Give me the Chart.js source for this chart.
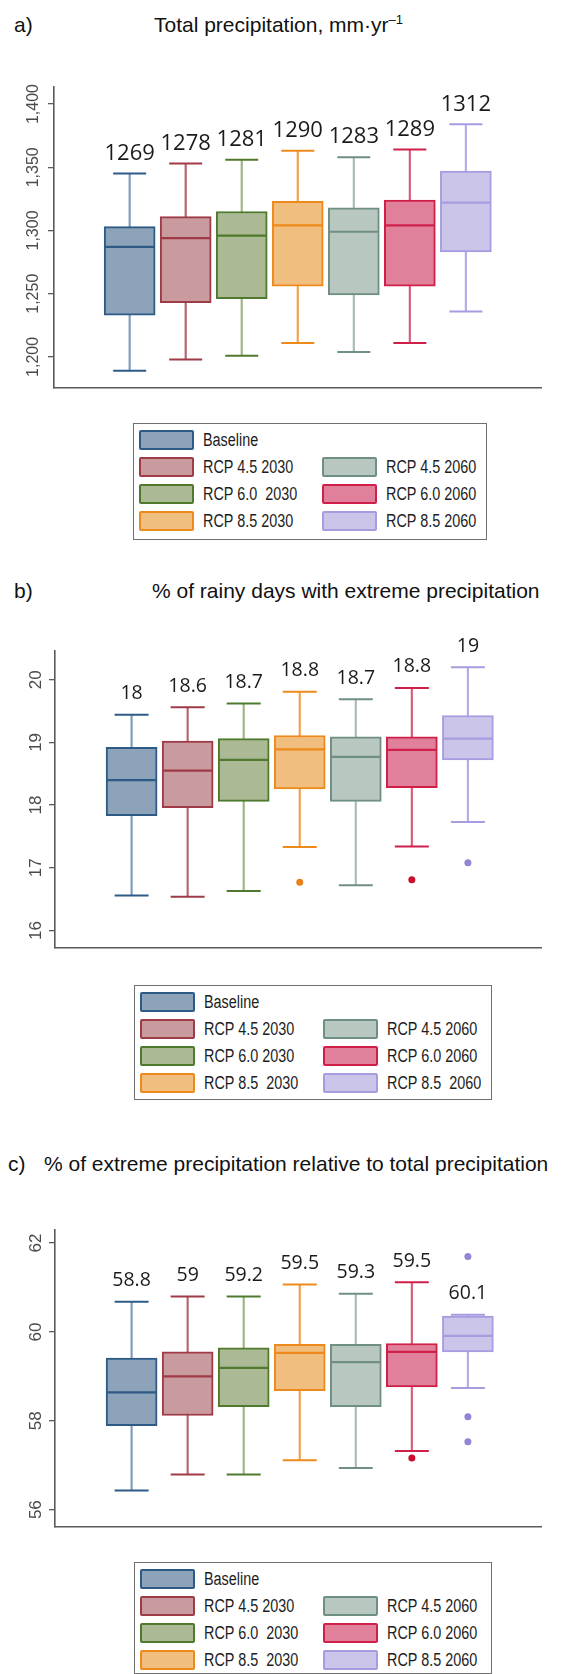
<!DOCTYPE html>
<html>
<head>
<meta charset="utf-8">
<script src="https://cdn.jsdelivr.net/npm/chart.js@4.4.1/dist/chart.umd.min.js"></script>
<style>
  body { margin: 0; width: 568px; height: 1674px; background: #fff; position: relative; overflow: hidden;
         font-family: "Liberation Sans", Arial, sans-serif; color: #111; }
  .tag, .title { position: absolute; font-size: 21px; line-height: 21px; white-space: pre; }
  .title sup { font-size: 13px; line-height: 0; vertical-align: 8px; }
  canvas { position: absolute; left: 0; }
  .legend { position: absolute; border: 1.5px solid #707070; box-sizing: border-box; }
  .legend .item { position: absolute; display: flex; align-items: center; height: 20px; }
  .legend .swatch { width: 55px; height: 20px; box-sizing: border-box; border: 2px solid; border-radius: 2px; flex: none; }
  .legend .lbl { font-size: 18px; line-height: 18px; margin-left: 9px; white-space: pre; color: #1d1d1d;
                 transform: scaleX(0.8); transform-origin: left center; }
</style>
</head>
<body>

<div class="tag" style="left:14px; top:14px">a)</div>
<div class="title" style="left:154px; top:14px">Total precipitation, mm·yr<sup>–1</sup></div>
<canvas id="chartA" width="568" height="354" style="top:60px"></canvas>
<div class="legend" id="legendA" style="left:133px; top:423px; width:354px; height:117px"></div>

<div class="tag" style="left:14px; top:580px">b)</div>
<div class="title" style="left:152px; top:580px">% of rainy days with extreme precipitation</div>
<canvas id="chartB" width="568" height="350" style="top:624px"></canvas>
<div class="legend" id="legendB" style="left:134px; top:985px; width:358px; height:115px"></div>

<div class="tag" style="left:8px; top:1153px">c)</div>
<div class="title" style="left:44px; top:1153px">% of extreme precipitation relative to total precipitation</div>
<canvas id="chartC" width="568" height="350" style="top:1203px"></canvas>
<div class="legend" id="legendC" style="left:134px; top:1562px; width:358px; height:112px"></div>

<script>
// ---------- data ----------
const seriesNames = ['Baseline', 'RCP 4.5 2030', 'RCP 6.0 2030', 'RCP 8.5 2030',
                     'RCP 4.5 2060', 'RCP 6.0 2060', 'RCP 8.5 2060'];

// a) total precipitation, mm/yr
const tickValuesA = [1200, 1250, 1300, 1350, 1400];
const tickLabelsA = ['1,200', '1,250', '1,300', '1,350', '1,400'];
const lowA    = [1189, 1198, 1201, 1211, 1204, 1211, 1236];
const q1A     = [1233, 1243, 1246, 1256, 1249, 1256, 1283];
const medianA = [1287, 1294, 1296, 1304, 1299, 1304, 1322];
const q3A     = [1303, 1311, 1315, 1323, 1318, 1324, 1347];
const highA   = [1345, 1353, 1356, 1363, 1358, 1364, 1384];
const meanA   = [1269, 1278, 1281, 1290, 1283, 1289, 1312];
const outlierSeriesA = [];
const outlierValuesA = [];
const legendLabelsA = ['Baseline', 'RCP 4.5 2030', 'RCP 6.0  2030', 'RCP 8.5 2030',
                       'RCP 4.5 2060', 'RCP 6.0 2060', 'RCP 8.5 2060'];

// b) % of rainy days with extreme precipitation
const tickValuesB = [16, 17, 18, 19, 20];
const tickLabelsB = ['16', '17', '18', '19', '20'];
const lowB    = [16.56, 16.54, 16.63, 17.33, 16.72, 17.34, 17.73];
const q1B     = [17.83, 17.96, 18.06, 18.26, 18.06, 18.28, 18.72];
const medianB = [18.40, 18.55, 18.72, 18.89, 18.77, 18.88, 19.06];
const q3B     = [18.92, 19.02, 19.06, 19.11, 19.09, 19.09, 19.43];
const highB   = [19.44, 19.56, 19.62, 19.81, 19.69, 19.87, 20.20];
const meanB   = [18, 18.6, 18.7, 18.8, 18.7, 18.8, 19];
const outlierSeriesB = [3, 5, 6];
const outlierValuesB = [16.77, 16.81, 17.08];
const legendLabelsB = ['Baseline', 'RCP 4.5 2030', 'RCP 6.0 2030', 'RCP 8.5  2030',
                       'RCP 4.5 2060', 'RCP 6.0 2060', 'RCP 8.5  2060'];

// c) % of extreme precipitation relative to total precipitation
const tickValuesC = [56, 58, 60, 62];
const tickLabelsC = ['56', '58', '60', '62'];
const lowC    = [56.43, 56.79, 56.79, 57.11, 56.94, 57.32, 58.74];
const q1C     = [57.89, 58.12, 58.32, 58.68, 58.32, 58.76, 59.55];
const medianC = [58.64, 59.00, 59.19, 59.53, 59.32, 59.55, 59.91];
const q3C     = [59.41, 59.55, 59.64, 59.72, 59.72, 59.74, 60.36];
const highC   = [60.68, 60.80, 60.80, 61.07, 60.86, 61.12, 60.39];
const meanC   = [58.8, 59, 59.2, 59.5, 59.3, 59.5, 60.1];
const outlierSeriesC = [5, 6, 6, 6];
const outlierValuesC = [57.16, 61.70, 58.09, 57.53];
const legendLabelsC = ['Baseline', 'RCP 4.5 2030', 'RCP 6.0  2030', 'RCP 8.5  2030',
                       'RCP 4.5 2060', 'RCP 6.0 2060', 'RCP 8.5 2060'];

// ---------- styles ----------
const fillColors    = ['#8ca3b9', '#c99a9e', '#abba94', '#f0bf80', '#b8c8c1', '#e0809a', '#cbc6e9'];
const strokeColors  = ['#2d5b86', '#9e3b47', '#4f7a2e', '#ee8a1c', '#6f8f83', '#d0204a', '#a99be0'];
const whiskerColors = ['#7f9cb8', '#b3646c', '#9fb385', '#f0a04a', '#a7bdb4', '#d95c7a', '#b5ace6'];
const outlierColors = ['#2d5b86', '#9e3b47', '#4f7a2e', '#e8801c', '#6f8f83', '#c8102e', '#8f86d8'];
const axisColor = '#5a5a5a';

Chart.defaults.animation = false;

/**
 * Build one box-plot panel from the arrays above
 */
function drawPanel(canvasId, p) {
    const idx = p.low.map((_, i) => i);
    const whiskers = idx.map(i => ({ x: i, y: [p.low[i], p.high[i]] }));
    const boxes = idx.map(i => ({ x: i, y: [p.q1[i], p.q3[i]] }));
    const medians = idx.map(i => ({ x: i, y: p.median[i] }));
    const caps = idx.flatMap(i => [{ x: i, y: p.low[i] }, { x: i, y: p.high[i] }]);
    const capColors = idx.flatMap(i => [strokeColors[i], strokeColors[i]]);
    const outliers = p.outlierSeries.map((s, k) => ({ x: s, y: p.outlierValues[k] }));

    // mean values written above the upper whisker
    const meanLabels = {
        id: 'meanLabels',
        afterDatasetsDraw(chart) {
            const { ctx, scales: { x, y } } = chart;
            ctx.save();
            ctx.font = p.meanFont;
            ctx.fillStyle = '#1b1b1b';
            ctx.textAlign = 'center';
            ctx.textBaseline = 'middle';
            p.mean.forEach((v, i) => {
                ctx.fillText(String(v), x.getPixelForValue(i), y.getPixelForValue(p.high[i]) - p.meanGap);
            });
            ctx.restore();
        }
    };

    // rotated y tick labels
    const rotatedTicks = {
        id: 'rotatedTicks',
        afterDraw(chart) {
            const { ctx, scales: { y } } = chart;
            ctx.save();
            ctx.font = p.tickFont;
            ctx.fillStyle = '#4a4a4a';
            ctx.textAlign = 'center';
            ctx.textBaseline = 'alphabetic';
            p.tickValues.forEach((v, k) => {
                ctx.save();
                ctx.translate(p.tickLabelX, y.getPixelForValue(v));
                ctx.rotate(-Math.PI / 2);
                ctx.fillText(p.tickLabels[k], 0, 0);
                ctx.restore();
            });
            ctx.restore();
        }
    };

    return new Chart(document.getElementById(canvasId), {
        data: {
            datasets: [
                {
                    type: 'bar', data: whiskers, order: 4,
                    backgroundColor: whiskerColors, borderWidth: 0,
                    grouped: false, categoryPercentage: 1, barPercentage: 1, maxBarThickness: 1.5
                },
                {
                    type: 'bar', data: boxes, order: 3,
                    backgroundColor: fillColors, borderColor: strokeColors, borderWidth: 2,
                    borderSkipped: false,
                    grouped: false, categoryPercentage: 1, barPercentage: 1, maxBarThickness: p.boxWidth
                },
                {
                    type: 'scatter', data: medians, order: 2,
                    pointStyle: 'line', pointRadius: p.boxWidth / 2 - 1, pointHoverRadius: p.boxWidth / 2 - 1,
                    borderColor: strokeColors, pointBorderColor: strokeColors, borderWidth: 2.2
                },
                {
                    type: 'scatter', data: caps, order: 1,
                    pointStyle: 'line', pointRadius: p.capRadius, pointHoverRadius: p.capRadius,
                    borderColor: capColors, pointBorderColor: capColors, borderWidth: 2
                },
                {
                    type: 'scatter', data: outliers, order: 0,
                    pointStyle: 'circle', pointRadius: 3.5,
                    backgroundColor: p.outlierSeries.map(s => outlierColors[s]),
                    borderWidth: 0
                }
            ]
        },
        options: {
            responsive: false,
            devicePixelRatio: 1,
            layout: { padding: { top: p.padTop, bottom: p.padBottom, left: 0, right: 0 } },
            plugins: { legend: { display: false }, tooltip: { enabled: false } },
            events: [],
            scales: {
                x: {
                    type: 'linear', position: 'bottom', min: p.xMin, max: p.xMax,
                    ticks: { display: false },
                    grid: { display: false },
                    border: { display: true, color: axisColor, width: 1.6 },
                    // one tick per series, so bar widths are measured on the series spacing
                    afterBuildTicks(scale) { scale.ticks = idx.map(i => ({ value: i })); },
                    afterFit(scale) { scale.height = 0; }
                },
                y: {
                    type: 'linear', min: p.yMin, max: p.yMax,
                    ticks: { display: false },
                    grid: { display: true, drawOnChartArea: false, drawTicks: true, tickLength: 6,
                            color: axisColor, lineWidth: 1.3 },
                    border: { display: true, color: axisColor, width: 1.6 },
                    afterBuildTicks(scale) { scale.ticks = p.tickValues.map(v => ({ value: v })); },
                    afterFit(scale) { scale.width = p.axisX; }
                }
            }
        },
        plugins: [meanLabels, rotatedTicks]
    });
}

/**
 * HTML legend: Baseline alone on top, 2030 runs left, 2060 runs right
 */
function buildLegend(containerId, labels) {
    const box = document.getElementById(containerId);
    const rowTops = [6.3, 33, 60, 87];
    const place = [[0, 0], [1, 0], [2, 0], [3, 0], [1, 1], [2, 1], [3, 1]];
    labels.forEach((text, i) => {
        const item = document.createElement('div');
        item.className = 'item';
        item.style.top = rowTops[place[i][0]] + 'px';
        item.style.left = (place[i][1] ? 188 : 4.5) + 'px';
        const sw = document.createElement('div');
        sw.className = 'swatch';
        sw.style.background = fillColors[i];
        sw.style.borderColor = strokeColors[i];
        const lbl = document.createElement('span');
        lbl.className = 'lbl';
        lbl.textContent = text;
        item.appendChild(sw);
        item.appendChild(lbl);
        box.appendChild(item);
    });
}

drawPanel('chartA', {
    low: lowA, q1: q1A, median: medianA, q3: q3A, high: highA, mean: meanA,
    outlierSeries: outlierSeriesA, outlierValues: outlierValuesA,
    tickValues: tickValuesA, tickLabels: tickLabelsA,
    yMin: 1176, yMax: 1413.7, xMin: -0.729, xMax: 6.725,
    padTop: 8.3, padBottom: 3.5, axisX: 54,
    boxWidth: 51, capRadius: 16.5, meanGap: 20,
    meanFont: '22px "Open Sans"', tickFont: '16px "Liberation Sans"', tickLabelX: 37.5
});
drawPanel('chartB', {
    low: lowB, q1: q1B, median: medianB, q3: q3B, high: highB, mean: meanB,
    outlierSeries: outlierSeriesB, outlierValues: outlierValuesB,
    tickValues: tickValuesB, tickLabels: tickLabelsB,
    yMin: 15.732, yMax: 20.463, xMin: -0.747, xMax: 6.69,
    padTop: 7.7, padBottom: 2, axisX: 55,
    boxWidth: 51, capRadius: 17, meanGap: 21,
    meanFont: '19.5px "Open Sans"', tickFont: '17px "Liberation Sans"', tickLabelX: 41
});
drawPanel('chartC', {
    low: lowC, q1: q1C, median: medianC, q3: q3C, high: highC, mean: meanC,
    outlierSeries: outlierSeriesC, outlierValues: outlierValuesC,
    tickValues: tickValuesC, tickLabels: tickLabelsC,
    yMin: 55.625, yMax: 62.302, xMin: -0.747, xMax: 6.69,
    padTop: 7.7, padBottom: 2, axisX: 55,
    boxWidth: 51, capRadius: 17, meanGap: 21,
    meanFont: '19.5px "Open Sans"', tickFont: '17px "Liberation Sans"', tickLabelX: 41
});

buildLegend('legendA', legendLabelsA);
buildLegend('legendB', legendLabelsB);
buildLegend('legendC', legendLabelsC);
</script>
</body>
</html>
